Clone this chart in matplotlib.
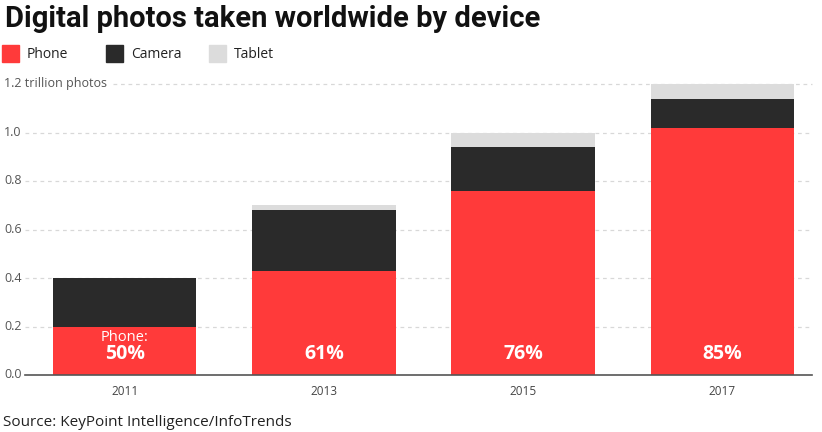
import matplotlib
matplotlib.use("Agg")
import matplotlib.pyplot as plt
import numpy as np

plt.rcParams.update({"font.family": ["Open Sans", "DejaVu Sans"]})

years = ["2011", "2013", "2015", "2017"]
phone = [0.20, 0.43, 0.76, 1.02]
camera = [0.20, 0.25, 0.18, 0.12]
tablet = [0.00, 0.02, 0.06, 0.06]
phone_share = ["50%", "61%", "76%", "85%"]
yticks = [0.0, 0.2, 0.4, 0.6, 0.8, 1.0, 1.2]
ytick_labels = ["0.0", "0.2", "0.4", "0.6", "0.8", "1.0", "1.2 trillion photos"]

RED = "#FF3A3A"
DARK = "#2A2A2A"
LIGHT = "#DCDCDC"

W, H = 822, 432
fig = plt.figure(figsize=(W / 100, H / 100), dpi=100)
ax = fig.add_axes([25 / W, 57 / H, (812 - 25) / W, (375 - 84) / H])

x = np.arange(len(years))
bw = 0.72
ax.bar(x, phone, bw, color=RED, zorder=3)
ax.bar(x, camera, bw, bottom=phone, color=DARK, zorder=3)
ax.bar(x, tablet, bw, bottom=np.add(phone, camera), color=LIGHT, zorder=3)

ax.set_xlim(-0.5, 3.45)
ax.set_ylim(0, 1.2)
for s in ["top", "right", "left"]:
    ax.spines[s].set_visible(False)
ax.spines["bottom"].set_color("#555555")
ax.spines["bottom"].set_linewidth(1.2)
ax.spines["bottom"].set_zorder(4)

ax.set_xticks(x)
ax.set_xticklabels(years, fontsize=8.5, color="#444444")
ax.tick_params(axis="x", length=0, pad=7)
ax.set_yticks([])

# gridlines + y labels
for v, lab in zip(yticks, ytick_labels):
    ax.text(-0.5 - 21 / 199.3, v, lab, fontsize=9, color="#555555",
            ha="left", va="center", transform=ax.transData)
    if v > 0:
        x0 = -0.5 if v < 1.2 else -0.5 + 88 / 199.3
        ax.plot([x0, 3.45], [v, v], color="#D8D8D8", lw=0.9, ls=(0, (3, 3)),
                zorder=1, clip_on=False)

for i, p in enumerate(phone_share):
    ax.text(i, 0.085, p, color="white", fontsize=14, fontweight="bold",
            ha="center", va="center", zorder=5)
ax.text(0, 0.155, "Phone:", color="white", fontsize=10.5, ha="center",
        va="center", zorder=5)

fig.text(5 / W, 1 - 19 / H, "Digital photos taken worldwide by device",
         fontsize=21, fontweight="bold", ha="left", va="center", color="#111111",
         family=["Roboto", "DejaVu Sans"])

legend_items = [("Phone", RED, 2), ("Camera", DARK, 106), ("Tablet", LIGHT, 209)]
for lab, col, px in legend_items:
    fig.patches.append(plt.Rectangle((px / W, 1 - 62 / H), 17 / W, 17 / H,
                                     color=col, transform=fig.transFigure))
    fig.text((px + 25) / W, 1 - 54 / H, lab, fontsize=10, ha="left",
             va="center", color="#222222")

fig.text(3 / W, 1 - 423 / H, "Source: KeyPoint Intelligence/InfoTrends",
         fontsize=11, ha="left", va="center", color="#222222")

fig.savefig("out.png", dpi=100)
